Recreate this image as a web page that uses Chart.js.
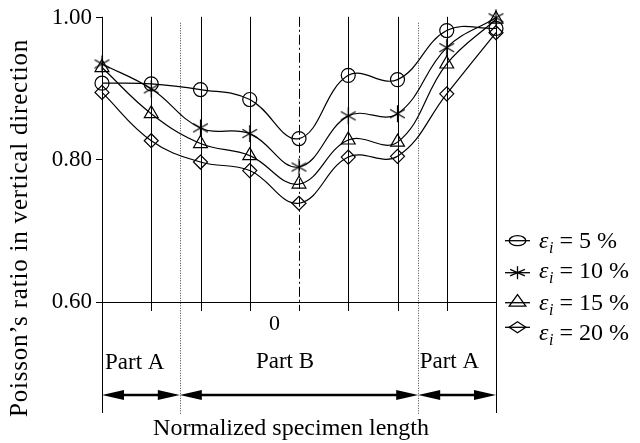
<!DOCTYPE html>
<html>
<head>
<meta charset="utf-8">
<script src="https://cdn.jsdelivr.net/npm/chart.js@4.4.1/dist/chart.umd.min.js"></script>
<style>
  html, body { margin: 0; padding: 0; background: #fff; }
  canvas { display: block; }
</style>
</head>
<body>
<canvas id="poisson_chart" width="640" height="443"></canvas>
<script>
// positions along the specimen, 4 = centre of the specimen
let positions = [0, 1, 2, 3, 4, 5, 6, 7, 8];
let strain5  = [0.908, 0.907, 0.899, 0.885, 0.830, 0.919, 0.913, 0.982, 0.985];
let strain10 = [0.935, 0.900, 0.845, 0.837, 0.790, 0.862, 0.865, 0.958, 1.000];
let strain15 = [0.930, 0.865, 0.823, 0.806, 0.766, 0.828, 0.825, 0.935, 0.998];
let strain20 = [0.895, 0.827, 0.797, 0.785, 0.739, 0.804, 0.805, 0.893, 0.979];
let series_labels = ['5 %', '10 %', '15 %', '20 %'];
let y_ticks = [0.60, 0.80, 1.00];
let part_bounds = [1.58, 6.42];
let center_pos = 4;
let zero_label_pos = 3.5;

const SERIF = '"Liberation Serif", "Times New Roman", serif';

function makeAsterisk(r) {
  let c = document.createElement('canvas');
  let s = Math.ceil(r * 2 + 4);
  c.width = s; c.height = s;
  let g = c.getContext('2d');
  g.strokeStyle = '#000';
  g.lineWidth = 1.2;
  g.translate(s / 2, s / 2);
  for (let k = 0; k < 3; k++) {
    let a = Math.PI / 2 + k * Math.PI / 3;
    g.beginPath();
    g.moveTo(Math.cos(a) * r, Math.sin(a) * r);
    g.lineTo(-Math.cos(a) * r, -Math.sin(a) * r);
    g.stroke();
  }
  return c;
}

function makeDataset(label, data, style, radius) {
  return {
    label: label,
    data: data,
    borderColor: '#000',
    borderWidth: 1.2,
    tension: 0.4,
    pointStyle: style,
    pointRadius: radius,
    pointBorderColor: '#000',
    pointBackgroundColor: 'rgba(0,0,0,0)',
    pointBorderWidth: 1.2,
    clip: false
  };
}

function drawArrow(ctx, x1, x2, y) {
  let head = 22, half = 5;
  ctx.lineWidth = 2.5;
  ctx.beginPath();
  ctx.moveTo(x1 + head - 2, y);
  ctx.lineTo(x2 - head + 2, y);
  ctx.stroke();
  ctx.beginPath();
  ctx.moveTo(x1, y); ctx.lineTo(x1 + head, y - half); ctx.lineTo(x1 + head, y + half); ctx.closePath();
  ctx.fill();
  ctx.beginPath();
  ctx.moveTo(x2, y); ctx.lineTo(x2 - head, y - half); ctx.lineTo(x2 - head, y + half); ctx.closePath();
  ctx.fill();
}

function legendMarker(ctx, idx, x, y) {
  ctx.beginPath();
  if (idx == 0) {
    ctx.ellipse(x, y, 8.3, 5, 0, 0, Math.PI * 2);
  } else if (idx == 1) {
    for (let k = 0; k < 3; k++) {
      let a = Math.PI / 2 + k * Math.PI / 3;
      ctx.moveTo(x + Math.cos(a) * 8.5, y + Math.sin(a) * 6.5);
      ctx.lineTo(x - Math.cos(a) * 8.5, y - Math.sin(a) * 6.5);
    }
  } else if (idx == 2) {
    ctx.moveTo(x, y - 8);
    ctx.lineTo(x + 8.3, y + 3.5);
    ctx.lineTo(x - 8.3, y + 3.5);
    ctx.closePath();
  } else {
    ctx.moveTo(x, y - 5.5);
    ctx.lineTo(x + 8.3, y);
    ctx.lineTo(x, y + 5.5);
    ctx.lineTo(x - 8.3, y);
    ctx.closePath();
  }
  ctx.stroke();
}

const annotations = {
  id: 'annotations',
  beforeDatasetsDraw(chart) {
    const {ctx, scales: {x, y}} = chart;
    const top = y.getPixelForValue(1.0);
    const base = y.getPixelForValue(0.6);
    ctx.save();
    ctx.strokeStyle = '#000';
    ctx.lineWidth = 1;
    positions.forEach(function(p, i) {
      let px = Math.round(x.getPixelForValue(p)) + 0.5;
      let bottom = (i == 0 || i == positions.length - 1) ? base + 111 : base + 9;
      ctx.setLineDash(p == center_pos ? [10, 3, 2, 3] : []);
      ctx.beginPath();
      ctx.moveTo(px, top - 1);
      ctx.lineTo(px, bottom);
      ctx.stroke();
    });
    ctx.setLineDash([1, 1.5]);
    ctx.strokeStyle = '#444';
    part_bounds.forEach(function(b) {
      let px = Math.round(x.getPixelForValue(b)) + 0.5;
      ctx.beginPath();
      ctx.moveTo(px, top + 5);
      ctx.lineTo(px, base + 113);
      ctx.stroke();
    });
    ctx.restore();
  },
  afterDraw(chart) {
    const {ctx, scales: {x, y}} = chart;
    const base = y.getPixelForValue(0.6);
    const x0 = x.getPixelForValue(positions[0]);
    const x8 = x.getPixelForValue(positions[positions.length - 1]);
    const b1 = x.getPixelForValue(part_bounds[0]);
    const b2 = x.getPixelForValue(part_bounds[1]);
    ctx.save();
    ctx.fillStyle = '#000';
    ctx.strokeStyle = '#000';

    // arrows for the parts
    let ay = base + 93;
    drawArrow(ctx, x0, b1, ay);
    drawArrow(ctx, b1, b2, ay);
    drawArrow(ctx, b2, x8, ay);

    // labels below the axis
    ctx.textBaseline = 'alphabetic';
    ctx.font = '22px ' + SERIF;
    ctx.textAlign = 'center';
    ctx.fillText('0', x.getPixelForValue(zero_label_pos), base + 28);
    ctx.font = '23px ' + SERIF;
    ctx.textAlign = 'left';
    ctx.fillText('Part A', x0 + 3, base + 67);
    ctx.fillText('Part A', b2 + 1.5, base + 66);
    ctx.textAlign = 'center';
    ctx.fillText('Part B', (b1 + b2) / 2 - 14, base + 66);

    // axis titles
    ctx.font = '24px ' + SERIF;
    ctx.fillText('Normalized specimen length', 291, 435);
    ctx.save();
    ctx.translate(27, 228);
    ctx.rotate(-Math.PI / 2);
    ctx.font = '25px ' + SERIF;
    ctx.letterSpacing = '0.8px';
    ctx.fillText('Poisson\u2019s ratio in vertical direction', 0, 0);
    ctx.restore();

    // legend
    let symbol_y = [240.7, 272.7, 302.7, 327.3];
    let text_y = [248, 278, 310, 340];
    ctx.lineWidth = 1.3;
    ctx.textAlign = 'left';
    series_labels.forEach(function(lab, i) {
      ctx.beginPath();
      ctx.moveTo(505, symbol_y[i]);
      ctx.lineTo(530, symbol_y[i]);
      ctx.stroke();
      legendMarker(ctx, i, 517.5, symbol_y[i]);
      let tx = 539;
      ctx.font = 'italic 24px ' + SERIF;
      ctx.fillText('\u03b5', tx, text_y[i]);
      tx += ctx.measureText('\u03b5').width;
      ctx.font = 'italic 16px ' + SERIF;
      ctx.fillText('i', tx + 0.5, text_y[i] + 5);
      tx += ctx.measureText('i').width + 0.5;
      ctx.font = '24px ' + SERIF;
      ctx.fillText(' = ' + lab, tx, text_y[i]);
    });
    ctx.restore();
  }
};

let ctx = document.getElementById('poisson_chart').getContext('2d');
new Chart(ctx, {
  type: 'line',
  data: {
    labels: positions,
    datasets: [
      makeDataset('\u03b5i = 5 %', strain5, 'circle', 7),
      makeDataset('\u03b5i = 10 %', strain10, makeAsterisk(8.5), 8),
      makeDataset('\u03b5i = 15 %', strain15, 'triangle', 8),
      makeDataset('\u03b5i = 20 %', strain20, 'rectRot', 7)
    ]
  },
  options: {
    responsive: false,
    animation: false,
    devicePixelRatio: 1,
    layout: { padding: { top: 17, right: 144, left: 0, bottom: 0 } },
    plugins: { legend: { display: false }, tooltip: { enabled: false } },
    scales: {
      x: {
        type: 'linear',
        min: 0,
        max: 8,
        ticks: { display: false },
        grid: { display: false },
        border: { display: true, color: '#000', width: 1 },
        afterFit: function(s) { s.height = 141; }
      },
      y: {
        min: 0.6,
        max: 1.0,
        afterBuildTicks: function(s) { s.ticks = y_ticks.map(function(v) { return { value: v }; }); },
        ticks: {
          callback: function(v) { return v.toFixed(2); },
          font: { family: SERIF, size: 23 },
          color: '#000',
          padding: 4
        },
        grid: { drawOnChartArea: false, drawTicks: true, tickLength: 6, color: '#000' },
        border: { display: true, color: '#000', width: 1 },
        afterFit: function(s) { s.width = 102; }
      }
    }
  },
  plugins: [annotations]
});
</script>
</body>
</html>
